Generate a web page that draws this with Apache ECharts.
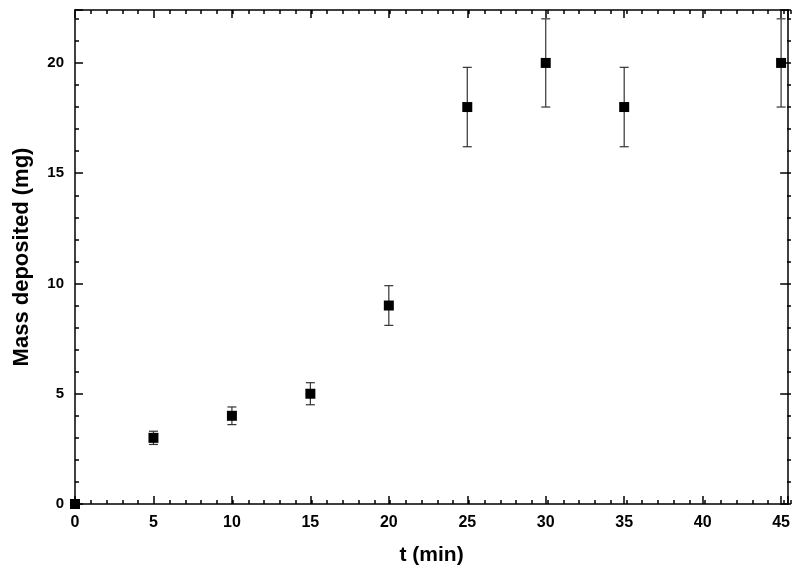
<!DOCTYPE html>
<html>
<head>
<meta charset="utf-8">
<script src="https://cdn.jsdelivr.net/npm/echarts@6/dist/echarts.min.js"></script>
<style>
  html, body { margin: 0; padding: 0; background: #fff; }
  #main { width: 793px; height: 572px; }
</style>
</head>
<body>
<div id="main"></div>
<script>
// data
const times = [0, 5, 10, 15, 20, 25, 30, 35, 45];
const mass = [0, 3, 4, 5, 9, 18, 20, 18, 20];
const errors = [0, 0.3, 0.4, 0.5, 0.9, 1.8, 2.0, 1.8, 2.0];

const chartDom = document.getElementById("main");
const myChart = echarts.init(chartDom);

const font = "Liberation Sans, Arial, sans-serif";
const lineStyle = { color: "#000", width: 1.5 };
const X_MAX = 45.45;
const Y_MAX = 22.4;

// only label the multiples of 5
const fmt = (v) => (Math.abs(v % 5) < 1e-9 ? String(v) : "");

// axis helper: major = interval 5 with frame line, minor = interval 1, short ticks, no line
function axis(kind, gridIndex, position, minor, extra) {
  return Object.assign(
    {
      type: "value",
      gridIndex: gridIndex,
      position: position,
      min: 0,
      max: kind === "x" ? X_MAX : Y_MAX,
      interval: minor ? 1 : 5,
      splitLine: { show: false },
      axisLine: { show: !minor, onZero: false, lineStyle: lineStyle },
      axisTick: { show: true, inside: true, length: minor ? 4 : 8, lineStyle: lineStyle },
      axisLabel: { show: false },
    },
    extra || {}
  );
}

const grid = { left: 75, right: 2, top: 10, bottom: 68 };

const option = {
  animation: false,
  backgroundColor: "#fff",
  grid: [Object.assign({}, grid), Object.assign({}, grid)],
  xAxis: [
    axis("x", 0, "bottom", false, {
      name: "t (min)",
      nameLocation: "middle",
      nameGap: 41,
      nameTextStyle: { fontFamily: font, fontWeight: "bold", fontSize: 21, color: "#000" },
      axisLabel: { show: true, margin: 11, fontFamily: font, fontWeight: "bold", fontSize: 16, color: "#000", formatter: fmt },
    }),
    axis("x", 0, "top", false),
    axis("x", 1, "bottom", true),
    axis("x", 1, "top", true),
  ],
  yAxis: [
    axis("y", 0, "left", false, {
      name: "Mass deposited (mg)",
      nameLocation: "middle",
      nameGap: 42,
      nameTextStyle: { fontFamily: font, fontWeight: "bold", fontSize: 22, color: "#000" },
      axisLabel: { show: true, margin: 11, fontFamily: font, fontWeight: "bold", fontSize: 15, color: "#000", formatter: fmt },
    }),
    axis("y", 0, "right", false),
    axis("y", 1, "left", true),
    axis("y", 1, "right", true),
  ],
  series: [
    {
      type: "custom",
      xAxisIndex: 0,
      yAxisIndex: 0,
      clip: false,
      data: times.map((t, i) => [t, mass[i] - errors[i], mass[i] + errors[i]]),
      renderItem: function (params, api) {
        const lo = api.coord([api.value(0), api.value(1)]);
        const hi = api.coord([api.value(0), api.value(2)]);
        const cap = 4.5;
        const style = { stroke: "#333", lineWidth: 1.2 };
        return {
          type: "group",
          children: [
            { type: "line", shape: { x1: hi[0], y1: hi[1], x2: lo[0], y2: lo[1] }, style: style },
            { type: "line", shape: { x1: hi[0] - cap, y1: hi[1], x2: hi[0] + cap, y2: hi[1] }, style: style },
            { type: "line", shape: { x1: lo[0] - cap, y1: lo[1], x2: lo[0] + cap, y2: lo[1] }, style: style },
          ],
        };
      },
      z: 2,
    },
    {
      type: "scatter",
      xAxisIndex: 0,
      yAxisIndex: 0,
      clip: false,
      symbol: "rect",
      symbolSize: 10,
      itemStyle: { color: "#000", opacity: 1 },
      data: times.map((t, i) => [t, mass[i]]),
      z: 3,
    },
  ],
};

option && myChart.setOption(option);
</script>
</body>
</html>
